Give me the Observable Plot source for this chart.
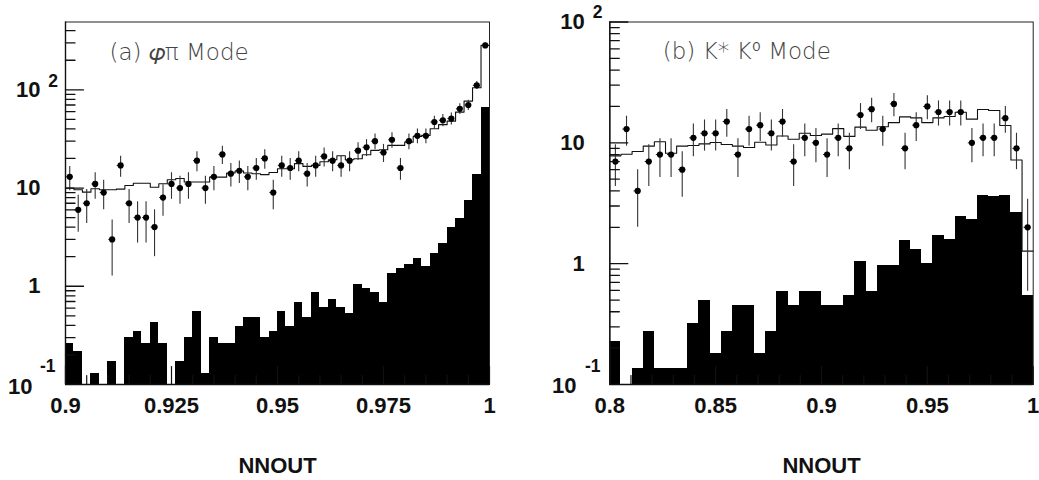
<!DOCTYPE html>
<html>
<head>
<meta charset="utf-8">
<script src="https://cdn.jsdelivr.net/npm/d3@7"></script>
<script src="https://cdn.jsdelivr.net/npm/@observablehq/plot@0.6"></script>
<style>
html,body{margin:0;padding:0;background:#fff;}
#wrap{position:relative;width:1039px;height:480px;overflow:hidden;}
#wrap svg{position:absolute;top:0;}
[aria-label="title a"] text{letter-spacing:3.1px;}
[aria-label="title b"] text{letter-spacing:2.4px;}
</style>
</head>
<body>
<div id="wrap"></div>
<script>
// Panel (a): phi pi mode, 50 bins over 0.9..1
const aFilled = [0.259,0.215,0,0.1285,0,0.1726,0,0.303,0.349,0.259,0.431,0.259,0,0.1726,0.303,0.558,0.1285,0.303,0.259,0.259,0.39,0.478,0.478,0.303,0.349,0.558,0.39,0.689,0.478,0.859,0.604,0.729,0.604,0.525,1.035,0.944,0.859,0.689,1.34,1.507,1.667,1.905,1.59,2.14,2.75,3.97,4.87,7.48,13.6,66.7];
const aLine = [9.98,9.6,9.08,9.84,9.6,9.6,9.75,10.6,11.2,11.2,10.2,11.06,12.15,12.5,11.5,11.5,11.5,12.9,12.9,14.2,14.9,14.2,14.0,13.7,14.4,15.7,15.7,17.7,16.6,17.0,18.5,19.4,21.3,19.4,19.9,21.8,24.2,24.5,27.2,27.2,29.3,33.5,34.4,40.2,44.2,48,59.3,76.7,105,283];
const aCounts = [13,6,7,11,9,3,17,7,5,5,4,8,11,10,11,19,10,13,22,14,15,13,16,20,9,17,16,19,14,17,21,19,17,19,24,26,30,23,31,16,30,34,34,47,49,51,64,70,111,283];
const aErrors = [3.61,2.45,2.65,3.32,3,1.73,4.12,2.65,2.24,2.24,2,2.83,3.32,3.16,3.32,4.36,3.16,3.61,4.69,3.74,3.87,3.61,4,4.47,3,4.12,4,4.36,3.74,4.12,4.58,4.36,4.12,4.36,4.9,5.1,5.48,4.8,5.57,4,5.48,5.83,5.83,6.86,7,7.14,8,8.37,10.54,16.82];
const aXDomain = [0.9,1];
const aYDomain = [0.1,490];
const aXMajor = [0.9,0.925,0.95,0.975,1];
const aXMinor = [0.905,0.91,0.915,0.92,0.93,0.935,0.94,0.945,0.955,0.96,0.965,0.97,0.98,0.985,0.99,0.995];
const aYMinor = [0.2,0.3,0.4,0.5,0.6,0.7,0.8,0.9,2,3,4,5,6,7,8,9,20,30,40,50,60,70,80,90,200,300,400];

// Panel (b): K* K0 mode, 38 bins over 0.8..1
const bFilled = [0.2286,0,0.1366,0.275,0.1366,0.1366,0.1366,0.318,0.5,0.182,0.275,0.454,0.454,0.182,0.275,0.593,0.454,0.593,0.593,0.454,0.454,0.547,1.045,0.593,0.957,0.957,1.55,1.32,0.994,1.695,1.6,2.45,2.32,3.7,3.61,3.7,2.65,0.55];
const bLine = [7.8,8.05,8.47,9.4,10.2,8.2,9.4,9.5,9.8,10.06,9.7,9.4,9.15,10.1,9.6,11.4,10.7,12.0,11.5,11.8,13.1,11.3,13.5,12.7,13.6,14.7,16.4,16.1,14.7,16.1,16.5,17.9,15.7,18.9,18.5,13.9,7.2,1.27];
const bCounts = [7,13,4,7,8,8,6,11,12,12,15,8,13,14,12,15,7,11,10,8,11,9,17,19,13,21,9,14,20,18,18,18,10,11,11,16,9,2];
const bErrors = [2.65,3.61,2,2.65,2.83,2.83,2.45,3.32,3.46,3.46,3.87,2.83,3.61,3.74,3.46,3.87,2.65,3.32,3.16,2.83,3.32,3,4.12,4.36,3.61,4.58,3,3.74,4.47,4.24,4.24,4.24,3.16,3.32,3.32,4,3,1.41];
const bXDomain = [0.8,1];
const bYDomain = [0.1,100];
const bXMajor = [0.8,0.85,0.9,0.95,1];
const bXMinor = [0.81,0.82,0.83,0.84,0.86,0.87,0.88,0.89,0.91,0.92,0.93,0.94,0.96,0.97,0.98,0.99];
const bYMinor = [0.2,0.3,0.4,0.5,0.6,0.7,0.8,0.9,2,3,4,5,6,7,8,9,20,30,40,50,60,70,80,90];

const yMajor = [1,10,100];
const yMajorLabels = ["1","10","10"];

const ink = "#111";
const labelFont = {fontFamily:"Liberation Sans, Arial, sans-serif", fontWeight:"bold", fontSize:22};
const smallFont = {fontFamily:"Liberation Sans, Arial, sans-serif", fontWeight:"bold", fontSize:17.5};
const tickShape = {draw(ctx,l){ctx.moveTo(0,0);ctx.lineTo(0,-l);}};

function panel(o){
  const [x0,x1] = o.xDomain;
  const n = o.filled.length;
  const w = (x1-x0)/n;
  const yBottom = o.yDomain[0];
  const bars = o.filled.map((v,i)=>({a:x0+i*w,b:x0+(i+1)*w,v})).filter(d=>d.v>0);
  const steps = o.line.map((v,i)=>({x:x0+i*w,v})).concat([{x:x1,v:o.line[n-1]}]);
  const pts = o.counts.map((v,i)=>({x:x0+(i+.5)*w,v,lo:v-o.errors[i],hi:v+o.errors[i],a:x0+(i+.5)*w-o.whisker,b:x0+(i+.5)*w+o.whisker}));
  const yTicks = yMajor.filter(v=>v<=o.yDomain[1]);
  return Plot.plot({
    width:o.width, height:480,
    marginLeft:o.left, marginRight:o.right, marginTop:21.5, marginBottom:96,
    x:{domain:o.xDomain},
    y:{type:"log",domain:o.yDomain},
    style:{background:"transparent"},
    marks:[
      Plot.rect(bars,{x1:"a",x2:"b",y1:()=>yBottom,y2:"v",fill:"black",shapeRendering:"crispEdges"}),
      Plot.line(steps,{x:"x",y:"v",curve:"step-after",stroke:ink,strokeWidth:1.1}),
      Plot.ruleX(pts,{x:"x",y1:"lo",y2:"hi",stroke:"#333",strokeWidth:1.1}),
      Plot.ruleY(pts,{y:"v",x1:"a",x2:"b",stroke:"#222",strokeWidth:1}),
      Plot.dot(pts,{x:"x",y:"v",r:3.1,fill:"black",stroke:"none"}),
      Plot.frame({stroke:"#222",strokeWidth:1}),
      Plot.ruleX([x0],{stroke:"#111",strokeWidth:1.4}),
      Plot.ruleY([yBottom],{stroke:"#111",strokeWidth:1.4}),
      Plot.vector(o.yMinor,{x:()=>x0,y:d=>d,length:9.5,rotate:90,anchor:"start",shape:tickShape,stroke:ink,strokeWidth:1.3}),
      Plot.vector(yTicks,{x:()=>x0,y:d=>d,length:18,rotate:90,anchor:"start",shape:tickShape,stroke:ink,strokeWidth:1.3}),
      Plot.vector(o.xMinor,{x:d=>d,y:()=>yBottom,length:9,rotate:0,anchor:"start",shape:tickShape,stroke:ink,strokeWidth:1.2}),
      Plot.vector(o.xMajor,{x:d=>d,y:()=>yBottom,length:18,rotate:0,anchor:"start",shape:tickShape,stroke:ink,strokeWidth:1.2}),
      Plot.axisX({anchor:"bottom",ticks:o.xMajor,tickSize:0,tickPadding:13,tickFormat:d=>String(d),
        label:"NNOUT",labelAnchor:"center",labelArrow:"none",labelOffset:88,...labelFont,fill:"#111"}),
      Plot.axisY({anchor:"left",ticks:yTicks,tickSize:0,tickPadding:25,tickFormat:d=>yMajorLabels[yMajor.indexOf(d)],
        label:null,...labelFont,fill:"#111"}),
      Plot.text([o.sup],{x:()=>x0,y:d=>d.v,text:d=>d.t,textAnchor:"end",...smallFont,fill:"#111",dx:o.sup.dx,dy:o.sup.dy}),
      Plot.text(["-1"],{x:()=>x0,y:()=>yBottom,text:d=>d,textAnchor:"end",...smallFont,fill:"#111",dx:o.minus.dx,dy:o.minus.dy}),
      Plot.text(["10"],{x:()=>x0,y:()=>yBottom,text:d=>d,textAnchor:"end",...labelFont,fill:"#111",dx:o.ten.dx,dy:o.ten.dy}),
      Plot.text([o.title],{frameAnchor:"top-left",text:d=>d,textAnchor:"start",dx:o.titleDx,dy:o.titleDy,
        fontFamily:"DejaVu Sans",fontWeight:200,fontSize:23,fill:"#444",ariaLabel:o.titleKey})
    ]
  });
}

const wrap = document.getElementById("wrap");
const pa = panel({width:520,left:65,right:31,filled:aFilled,line:aLine,counts:aCounts,errors:aErrors,
  xDomain:aXDomain,yDomain:aYDomain,xMajor:aXMajor,xMinor:aXMinor,yMinor:aYMinor,whisker:0.0008,
  sup:{v:100,t:"2",dx:-7.5,dy:-8.9},minus:{dx:-10,dy:-17.9},ten:{dx:-33,dy:2.4},
  title:"(a) 𝜑π Mode",titleKey:"title a",titleDx:44,titleDy:22});
pa.style.left="0px";
const pb = panel({width:519,left:89.3,right:6.3,filled:bFilled,line:bLine,counts:bCounts,errors:bErrors,
  xDomain:bXDomain,yDomain:bYDomain,xMajor:bXMajor,xMinor:bXMinor,yMinor:bYMinor,whisker:0.0017,
  sup:{v:100,t:"2",dx:-7.3,dy:-10.1},minus:{dx:-9.3,dy:-17.7},ten:{dx:-33.3,dy:1.8},
  title:"(b) K* K⁰ Mode",titleKey:"title b",titleDx:53,titleDy:21});
pb.style.left="520px";
wrap.append(pa,pb);
</script>
</body>
</html>
